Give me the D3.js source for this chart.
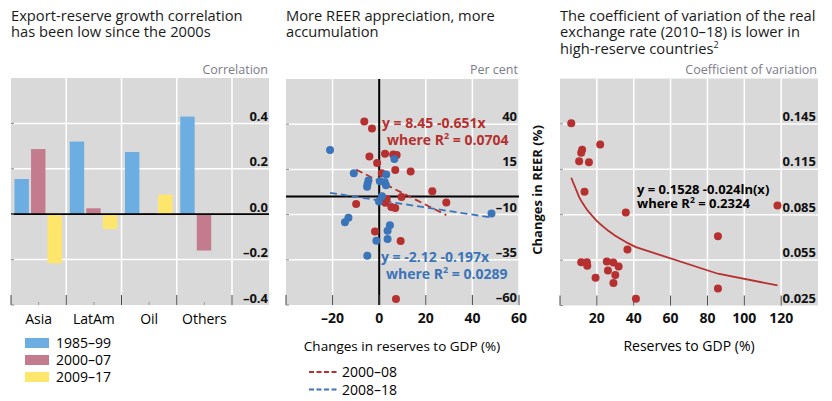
<!DOCTYPE html>
<html><head><meta charset="utf-8">
<script src="https://cdn.jsdelivr.net/npm/d3@7"></script>
<style>
body{margin:0;background:#fff;}
svg text{font-family:"Open Sans","Noto Sans",sans-serif;}
</style></head>
<body><svg id="c" width="832" height="401"></svg>
<script>
// ---------- Panel 1 data ----------
const categories = ["Asia","LatAm","Oil","Others"];
const periods = ["1985–99","2000–07","2009–17"];
const corr1985_99 = [0.155, 0.32, 0.274, 0.43];
const corr2000_07 = [0.287, 0.026, 0.005, -0.16];
const corr2009_17 = [-0.216, -0.065, 0.086, 0.003];
const corrTicks = [-0.4, -0.2, 0.0, 0.2, 0.4];

// ---------- Panel 2 data ----------
const res2000_08 = [-6.4,-3.1,-4.2,2.5,6.0,7.5,-0.9,6.9,13.5,1.1,22.8,9.6,3.2,2.6,-9.9,28.8,5.2,6.9,-1.8,9.2,7.2];
const reer2000_08 = [41.5,37.6,22.2,23.7,23.2,22.9,18.5,14.6,13.9,12.9,2.9,-0.3,-1.4,-3.5,-4.1,-3.3,-5.8,-6.3,-19.3,-24.6,-56.7];
const res2008_18 = [-21.1,6.5,-10.9,3.0,-4.6,-5.0,-5.2,0.3,2.4,2.9,1.2,-0.1,48.2,-13.2,-14.7,4.6,3.6,-1.2,3.6,-5.1];
const reer2008_18 = [25.7,20.7,12.9,12.2,8.9,6.9,5.4,8.5,7.9,6.3,0.2,-2.8,-9.4,-11.8,-14.3,-15.9,-18.9,-24.4,-23.5,-32.8];
const trend2000_08 = [8.45, -0.651];
const trend2008_18 = [-2.12, -0.197];
const reerXTicks = [-20, 0, 20, 40, 60];
const reerYTicks = [-60, -35, -10, 15, 40];
const scatterSeries = ["2000–08","2008–18"];

// ---------- Panel 3 data ----------
const resGdp = [6.1,21.8,12.0,11.5,10.4,15.7,13.3,35.7,36.6,11.5,14.6,14.8,25.4,28.9,26.0,31.8,30.0,19.3,29.0,41.2,118.0,85.7,85.7];
const coefVar = [0.1455,0.1314,0.128,0.126,0.1203,0.1196,0.1001,0.0865,0.062,0.0536,0.0536,0.0512,0.0541,0.0534,0.0482,0.0508,0.0451,0.0433,0.0398,0.0295,0.0911,0.0707,0.0363];
const logTrend = [0.1528, -0.024];
const cvXTicks = [20, 40, 60, 80, 100, 120];
const cvYTicks = [0.025, 0.055, 0.085, 0.115, 0.145];

const svg = d3.select("#c");
const BG = "#d9d9d9", GRID = "#ffffff", TXT = "#1a1a1a", UNIT = "#7b7b8a";
const RED = "#b5302f", BLUE = "#3b74b8";
const colors = ["#6daee2", "#c47b8d", "#fee66d"];

function titleLines(x, lines){
  lines.forEach((l,i)=>{
    const t = svg.append("text").attr("x",x).attr("y",20.5+i*16.7)
      .attr("font-size",14.7).attr("fill",TXT).text(l.text);
    if(l.sup) t.append("tspan").attr("font-size",9).attr("dy",-6).text(l.sup);
  });
}
function unitLabel(x, s){
  svg.append("text").attr("x",x).attr("y",74).attr("text-anchor","end")
    .attr("font-size",12.5).attr("fill",UNIT).text(s);
}
function tickLab(x, y, s){
  svg.append("text").attr("x",x).attr("y",y).attr("text-anchor","end")
    .attr("font-size",13).attr("font-weight","bold").attr("fill","#111").text(s);
}

// ================= Panel 1 =================
{
  const L=11, R=269, T=78, B=305;
  const y = d3.scaleLinear().domain([-0.4,0.6]).range([B,T]);
  const x0 = d3.scaleBand().domain(categories).range([L, L+4*55.25]);
  const x1 = d3.scaleBand().domain(periods).range([3.5, 51]).paddingInner(0.13);
  titleLines(L,[{text:"Export-reserve growth correlation"},{text:"has been low since the 2000s"}]);
  unitLabel(R-1,"Correlation");
  svg.append("rect").attr("x",L).attr("y",T).attr("width",R-L).attr("height",B-T).attr("fill",BG);
  corrTicks.filter(v=>v!==0 && v!==-0.4).forEach(v=>{
    svg.append("line").attr("x1",L).attr("x2",R).attr("y1",y(v)).attr("y2",y(v)).attr("stroke",GRID).attr("stroke-width",1.5);
  });
  for(let i=1;i<=4;i++){
    const xx = L + i*x0.bandwidth();
    svg.append("line").attr("x1",xx).attr("x2",xx).attr("y1",T).attr("y2",B).attr("stroke",GRID).attr("stroke-width",1.5);
  }
  const series = [corr1985_99, corr2000_07, corr2009_17];
  categories.forEach((c,i)=>{
    series.forEach((s,j)=>{
      const v = s[i];
      svg.append("rect").attr("x",x0(c)+x1(periods[j])).attr("width",x1.bandwidth())
        .attr("y",y(Math.max(0,v))).attr("height",Math.abs(y(v)-y(0))).attr("fill",colors[j]);
    });
  });
  svg.append("line").attr("x1",L).attr("x2",R).attr("y1",y(0)).attr("y2",y(0)).attr("stroke","#000").attr("stroke-width",1.8);
  for(let i=0;i<=4;i++){
    const xx = L + i*x0.bandwidth();
    svg.append("line").attr("x1",xx).attr("x2",xx).attr("y1",B).attr("y2",B-10).attr("stroke","#444").attr("stroke-width",1);
    if(i<4) svg.append("line").attr("x1",xx+x0.bandwidth()/2).attr("x2",xx+x0.bandwidth()/2).attr("y1",B).attr("y2",B-3).attr("stroke","#999").attr("stroke-width",1);
  }
  corrTicks.forEach(v=>{
    svg.append("line").attr("x1",L).attr("x2",L+3).attr("y1",y(v)).attr("y2",y(v)).attr("stroke","#888");
    tickLab(R-1, y(v)-2.5, v===0?"0.0":(v<0?"–"+Math.abs(v).toFixed(1):v.toFixed(1)));
  });
  categories.forEach(c=>{
    svg.append("text").attr("x",x0(c)+x0.bandwidth()/2).attr("y",324).attr("text-anchor","middle")
      .attr("font-size",14).attr("fill","#000").text(c);
  });
  periods.forEach((p,j)=>{
    svg.append("rect").attr("x",25).attr("y",338+j*17).attr("width",24).attr("height",10).attr("fill",colors[j]);
    svg.append("text").attr("x",56).attr("y",348+j*17).attr("font-size",14).attr("fill","#000").text(p);
  });
}

// ================= Panel 2 =================
{
  const L=286, R=519, T=79, B=305;
  const x = d3.scaleLinear().domain([-40,60]).range([L,R]);
  const y = d3.scaleLinear().domain([-60,65]).range([B,T]);
  titleLines(L,[{text:"More REER appreciation, more"},{text:"accumulation"}]);
  unitLabel(R-1,"Per cent");
  svg.append("rect").attr("x",L).attr("y",T).attr("width",R-L).attr("height",B-T).attr("fill",BG);
  reerYTicks.filter(v=>v!==-60).forEach(v=>{
    svg.append("line").attr("x1",L).attr("x2",R).attr("y1",y(v)).attr("y2",y(v)).attr("stroke",GRID).attr("stroke-width",1.5);
  });
  reerXTicks.filter(v=>v!==0).forEach(v=>{
    svg.append("line").attr("x1",x(v)).attr("x2",x(v)).attr("y1",T).attr("y2",B).attr("stroke",GRID).attr("stroke-width",1.5);
  });
  svg.append("line").attr("x1",L).attr("x2",R).attr("y1",y(0)).attr("y2",y(0)).attr("stroke","#000").attr("stroke-width",2);
  svg.append("line").attr("x1",x(0)).attr("x2",x(0)).attr("y1",T).attr("y2",B).attr("stroke","#000").attr("stroke-width",2);
  [-40].concat(reerXTicks).forEach(v=>{
    svg.append("line").attr("x1",x(v)).attr("x2",x(v)).attr("y1",B).attr("y2",B-10).attr("stroke","#444");
  });
  reerYTicks.forEach(v=>{
    svg.append("line").attr("x1",L).attr("x2",L+3).attr("y1",y(v)).attr("y2",y(v)).attr("stroke","#888");
    tickLab(R-2, y(v)-3, v<0?"–"+Math.abs(v):String(v));
  });
  const sets = [
    {xs:res2000_08, ys:reer2000_08, tr:trend2000_08, c:RED},
    {xs:res2008_18, ys:reer2008_18, tr:trend2008_18, c:BLUE}
  ];
  sets.forEach(s=>{
    const ext = d3.extent(s.xs);
    svg.append("line").attr("x1",x(ext[0])).attr("y1",y(s.tr[0]+s.tr[1]*ext[0]))
      .attr("x2",x(ext[1])).attr("y2",y(s.tr[0]+s.tr[1]*ext[1]))
      .attr("stroke",s.c).attr("stroke-width",1.8).attr("stroke-dasharray","7,4");
  });
  sets.forEach(s=>{
    svg.append("g").selectAll("circle").data(s.xs).join("circle")
      .attr("cx",d=>x(d)).attr("cy",(d,i)=>y(s.ys[i])).attr("r",4).attr("fill",s.c);
  });
  function eq(xp, yp, c, l1, r2){
    svg.append("text").attr("x",xp).attr("y",yp).attr("font-size",14).attr("font-weight","bold").attr("fill",c).text(l1);
    const t = svg.append("text").attr("x",xp+5).attr("y",yp+17).attr("font-size",14).attr("font-weight","bold").attr("fill",c).text("where R");
    t.append("tspan").attr("font-size",9).attr("dy",-6).text("2");
    t.append("tspan").attr("dy",6).text(" = "+r2);
  }
  eq(382, 128, RED, "y = 8.45 -0.651x", "0.0704");
  eq(381, 262, BLUE, "y = -2.12 -0.197x", "0.0289");
  reerXTicks.forEach(v=>{
    svg.append("text").attr("x",x(v)).attr("y",323).attr("text-anchor","middle")
      .attr("font-size",14).attr("font-weight","bold").attr("fill","#111").text(v<0?"–"+Math.abs(v):String(v));
  });
  svg.append("text").attr("x",402).attr("y",351).attr("text-anchor","middle")
    .attr("font-size",13.5).attr("fill","#000").text("Changes in reserves to GDP (%)");
  svg.append("text").attr("transform","translate(542,190) rotate(-90)").attr("text-anchor","middle")
    .attr("font-size",13).attr("font-weight","bold").attr("fill","#111").text("Changes in REER (%)");
  sets.forEach((s,j)=>{
    const yy = 372 + j*17.5;
    svg.append("line").attr("x1",309).attr("x2",338).attr("y1",yy).attr("y2",yy)
      .attr("stroke",s.c).attr("stroke-width",2).attr("stroke-dasharray","5,2.5");
    svg.append("text").attr("x",342).attr("y",yy+5).attr("font-size",14).attr("fill","#000").text(scatterSeries[j]);
  });
}

// ================= Panel 3 =================
{
  const L=560, R=818, T=78.5, B=305.5;
  const x = d3.scaleLinear().domain([0,140]).range([L,L+140*1.843]);
  const y = d3.scaleLinear().domain([0.025,0.175]).range([B,T]);
  titleLines(L,[{text:"The coefficient of variation of the real"},{text:"exchange rate (2010–18) is lower in"},{text:"high-reserve countries",sup:"2"}]);
  unitLabel(R-1,"Coefficient of variation");
  svg.append("rect").attr("x",L).attr("y",T).attr("width",R-L).attr("height",B-T).attr("fill",BG);
  cvYTicks.filter(v=>v!==0.025).forEach(v=>{
    svg.append("line").attr("x1",L).attr("x2",R).attr("y1",y(v)).attr("y2",y(v)).attr("stroke",GRID).attr("stroke-width",1.5);
  });
  cvXTicks.forEach(v=>{
    svg.append("line").attr("x1",x(v)).attr("x2",x(v)).attr("y1",T).attr("y2",B).attr("stroke",GRID).attr("stroke-width",1.5);
  });
  [0].concat(cvXTicks).forEach(v=>{
    svg.append("line").attr("x1",x(v)).attr("x2",x(v)).attr("y1",B).attr("y2",B-10).attr("stroke","#444");
  });
  cvYTicks.forEach(v=>{
    svg.append("line").attr("x1",L).attr("x2",L+3).attr("y1",y(v)).attr("y2",y(v)).attr("stroke","#888");
    tickLab(R-2, y(v)-3, v.toFixed(3));
  });
  const xsSorted = resGdp.slice().sort((a,b)=>a-b);
  const line = d3.line().x(d=>x(d)).y(d=>y(logTrend[0]+logTrend[1]*Math.log(d)));
  svg.append("path").attr("d",line(xsSorted)).attr("fill","none").attr("stroke",RED).attr("stroke-width",1.8);
  svg.append("g").selectAll("circle").data(resGdp).join("circle")
    .attr("cx",d=>x(d)).attr("cy",(d,i)=>y(coefVar[i])).attr("r",4).attr("fill",RED);
  svg.append("text").attr("x",637).attr("y",194).attr("font-size",13).attr("font-weight","bold").attr("fill","#000").text("y = 0.1528 -0.024ln(x)");
  const t = svg.append("text").attr("x",637).attr("y",208).attr("font-size",13).attr("font-weight","bold").attr("fill","#000").text("where R");
  t.append("tspan").attr("font-size",8.5).attr("dy",-5.5).text("2");
  t.append("tspan").attr("dy",5.5).text(" = 0.2324");
  cvXTicks.forEach(v=>{
    svg.append("text").attr("x",x(v)).attr("y",323).attr("text-anchor","middle")
      .attr("font-size",14).attr("font-weight","bold").attr("fill","#111").text(v);
  });
  svg.append("text").attr("x",689).attr("y",351).attr("text-anchor","middle")
    .attr("font-size",14).attr("fill","#000").text("Reserves to GDP (%)");
}
</script></body></html>
